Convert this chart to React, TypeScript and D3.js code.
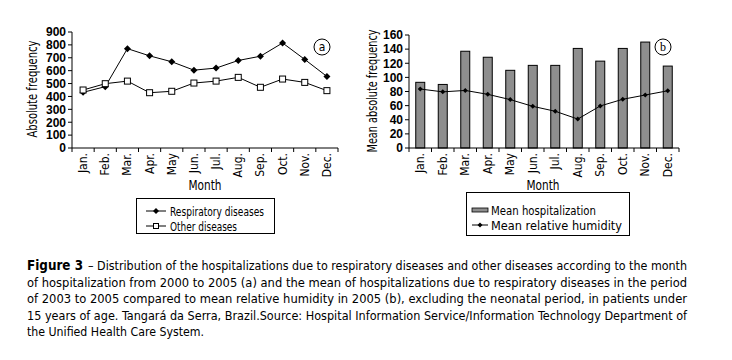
import React from "react";
import * as d3 from "d3";

const months = ["Jan.", "Feb.", "Mar.", "Apr.", "May", "Jun.", "Jul.", "Aug.", "Sep.", "Oct.", "Nov.", "Dec."];
const respiratory = [432, 476, 771, 715, 669, 604, 620, 679, 712, 815, 687, 555];
const otherDiseases = [450, 499, 519, 429, 440, 504, 519, 548, 471, 535, 509, 445];
const meanHospitalization = [93, 90, 137, 128.5, 110, 117, 117, 141, 123, 141, 150, 116];
const meanHumidity = [83.5, 79.5, 81.5, 76, 68.5, 59, 52, 41, 59.5, 69, 75, 81];
const ticksA = [0, 100, 200, 300, 400, 500, 600, 700, 800, 900];
const ticksB = [0, 20, 40, 60, 80, 100, 120, 140, 160];
const captionFirst = "– Distribution of the hospitalizations due to respiratory diseases and other diseases according to the month";
const captionLines = [
  "of hospitalization from 2000 to 2005 (a) and the mean of hospitalizations due to respiratory diseases in the period",
  "of 2003 to 2005 compared to mean relative humidity in 2005 (b), excluding the neonatal period, in patients under",
  "15 years of age. Tangará da Serra, Brazil.Source: Hospital Information Service/Information Technology Department of",
  "the Unified Health Care System.",
];

const NARROW = "'DejaVu Sans Condensed', 'Liberation Sans', Arial, sans-serif";
const NUM = "'Liberation Sans', Arial, sans-serif";

function Axes({ x, y, ticks, left, bottom, right, top }: any) {
  return (
    <g>
      <line x1={left} x2={left} y1={top} y2={bottom} stroke="#000" />
      <line x1={left} x2={right} y1={bottom} y2={bottom} stroke="#000" />
      {ticks.map((t: number) => (
        <g key={t}>
          <line x1={left - 4} x2={left} y1={y(t)} y2={y(t)} stroke="#000" />
          <text x={left - 6} y={y(t)} dy="0.36em" textAnchor="end" fontFamily={NUM} fontWeight="bold" fontSize={12}>
            {t}
          </text>
        </g>
      ))}
      {months.map((m, i) => (
        <line key={"t" + i} x1={x(m)!} x2={x(m)!} y1={bottom} y2={bottom + 4} stroke="#000" />
      ))}
      <line x1={right} x2={right} y1={bottom} y2={bottom + 4} stroke="#000" />
      {months.map((m) => (
        <text
          key={m}
          transform={`translate(${x(m)! + x.bandwidth() / 2 + 4},${bottom + 5}) rotate(-90)`}
          textAnchor="end"
          fontFamily={NARROW}
          fontSize={12}
        >
          {m}
        </text>
      ))}
    </g>
  );
}

function diamond(cx: number, cy: number, r: number) {
  return `M${cx},${cy - r}L${cx + r},${cy}L${cx},${cy + r}L${cx - r},${cy}Z`;
}

export default function App() {
  // Chart a
  const aL = 72, aR = 338, aT = 32, aB = 148;
  const xa = d3.scaleBand<string>().domain(months).range([aL, aR]);
  const ya = d3.scaleLinear().domain([0, 900]).range([aB, aT]);
  const cxa = (m: string) => xa(m)! + xa.bandwidth() / 2;
  const lineA = d3.line<number>().x((_, i) => cxa(months[i])).y((d) => ya(d));

  // Chart b
  const bL = 409, bR = 679, bT = 35, bB = 148;
  const xbAxis = d3.scaleBand<string>().domain(months).range([bL, bR]);
  const yb = d3.scaleLinear().domain([0, 160]).range([bB, bT]);
  const cxb = (m: string) => xbAxis(m)! + xbAxis.bandwidth() / 2;
  const lineB = d3.line<number>().x((_, i) => cxb(months[i])).y((d) => yb(d));
  const bw = 9;

  return (
    <svg width={732} height={360} style={{ position: "absolute", left: 0, top: 0, background: "#fff" }}>
      <rect width={732} height={360} fill="#fff" />
      {/* Chart a */}
      <Axes x={xa} y={ya} ticks={ticksA} left={aL} right={aR} top={aT} bottom={aB} />
      <text transform={`translate(37,89) rotate(-90)`} textAnchor="middle" fontFamily={NARROW} fontSize={13.5} textLength={97} lengthAdjust="spacingAndGlyphs">
        Absolute frequency
      </text>
      <text x={205} y={190} textAnchor="middle" fontFamily={NARROW} fontSize={13.5} textLength={33} lengthAdjust="spacingAndGlyphs">Month</text>
      <path d={lineA(otherDiseases)!} fill="none" stroke="#000" strokeWidth={1} />
      <path d={lineA(respiratory)!} fill="none" stroke="#000" strokeWidth={1} />
      {respiratory.map((v, i) => (
        <path key={"r" + i} d={diamond(cxa(months[i]), ya(v), 3.5)} fill="#000" />
      ))}
      {otherDiseases.map((v, i) => (
        <rect key={"o" + i} x={cxa(months[i]) - 3} y={ya(v) - 3} width={6} height={6} fill="#fff" stroke="#000" />
      ))}
      <circle cx={322} cy={47} r={8} fill="#fff" stroke="#000" />
      <text x={322} y={47} dy="0.35em" textAnchor="middle" fontFamily={NARROW} fontSize={12}>a</text>

      {/* Legend a */}
      <rect x={136.5} y={198.5} width={138} height={35} fill="#fff" stroke="#000" />
      <line x1={146} x2={166} y1={211} y2={211} stroke="#000" />
      <path d={diamond(156, 211, 3)} fill="#000" />
      <text x={170} y={211} dy="0.35em" fontFamily={NARROW} fontSize={13} textLength={94} lengthAdjust="spacingAndGlyphs">Respiratory diseases</text>
      <line x1={146} x2={166} y1={226} y2={226} stroke="#000" />
      <rect x={153.5} y={223.5} width={5} height={5} fill="#fff" stroke="#000" />
      <text x={170} y={226} dy="0.35em" fontFamily={NARROW} fontSize={13} textLength={67} lengthAdjust="spacingAndGlyphs">Other diseases</text>

      {/* Chart b */}
      {meanHospitalization.map((v, i) => (
        <rect
          key={"b" + i}
          x={cxb(months[i]) - bw / 2}
          y={yb(v)}
          width={bw}
          height={bB - yb(v)}
          fill="#8e8e8e"
          stroke="#000"
          strokeWidth={1}
        />
      ))}
      <Axes x={xbAxis} y={yb} ticks={ticksB} left={bL} right={bR} top={bT} bottom={bB} />
      <text transform={`translate(377,91) rotate(-90)`} textAnchor="middle" fontFamily={NARROW} fontSize={13.5} textLength={123} lengthAdjust="spacingAndGlyphs">
        Mean absolute frequency
      </text>
      <text x={543} y={190} textAnchor="middle" fontFamily={NARROW} fontSize={13.5} textLength={33} lengthAdjust="spacingAndGlyphs">Month</text>
      <path d={lineB(meanHumidity)!} fill="none" stroke="#000" strokeWidth={1} />
      {meanHumidity.map((v, i) => (
        <path key={"h" + i} d={diamond(cxb(months[i]), yb(v), 2.5)} fill="#000" />
      ))}
      <circle cx={663} cy={47} r={8} fill="#fff" stroke="#000" />
      <text x={663} y={47} dy="0.35em" textAnchor="middle" fontFamily="'Liberation Serif', serif" fontSize={12}>b</text>

      {/* Legend b */}
      <rect x={466.5} y={192.5} width={163} height={43} fill="#fff" stroke="#000" />
      <rect x={472} y={208} width={16} height={4} fill="#8e8e8e" stroke="#000" strokeWidth={0.8} />
      <text x={491} y={210} dy="0.35em" fontFamily={NARROW} fontSize={13} textLength={105} lengthAdjust="spacingAndGlyphs">Mean hospitalization</text>
      <line x1={472} x2={488} y1={225} y2={225} stroke="#000" />
      <path d={diamond(480, 225, 2.5)} fill="#000" />
      <text x={491} y={225} dy="0.35em" fontFamily={NARROW} fontSize={13} textLength={131} lengthAdjust="spacingAndGlyphs">Mean relative humidity</text>

      {/* Caption */}
      <g fontFamily={NARROW} fontSize={13}>
        <text x={27} y={270} fontWeight="bold" fontSize={13.5} textLength={56} lengthAdjust="spacingAndGlyphs">Figure 3</text>
        <text x={88} y={270} textLength={599} lengthAdjust="spacingAndGlyphs">{captionFirst}</text>
        {captionLines.map((l, i) => (
          <text key={i} x={27} y={270 + (i + 1) * 16.5} textLength={i === 3 ? 177 : 660} lengthAdjust="spacingAndGlyphs">
            {l}
          </text>
        ))}
      </g>
    </svg>
  );
}
